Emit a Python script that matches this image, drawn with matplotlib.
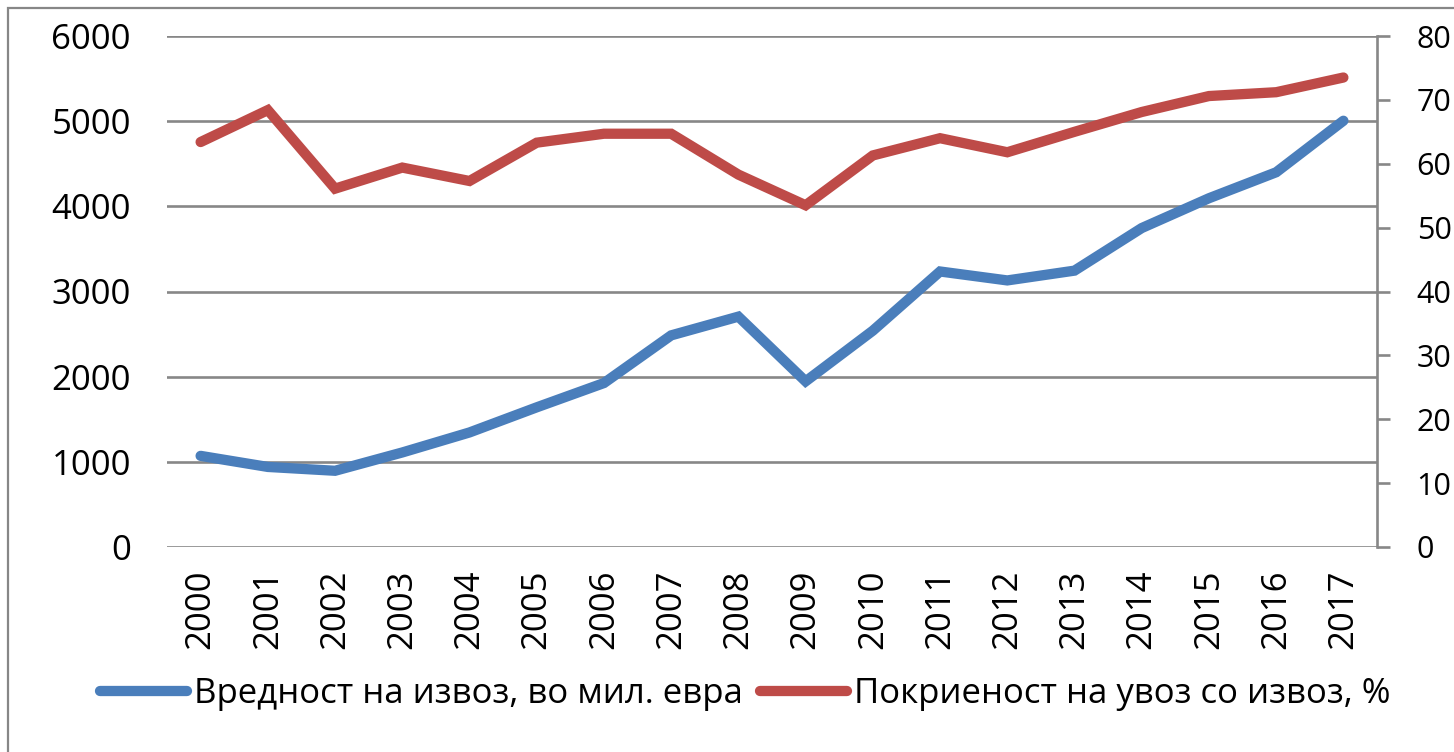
import matplotlib
matplotlib.use("Agg")
import matplotlib.pyplot as plt
from matplotlib.patches import Rectangle

years = ["2000", "2001", "2002", "2003", "2004", "2005", "2006", "2007", "2008",
         "2009", "2010", "2011", "2012", "2013", "2014", "2015", "2016", "2017"]
export_value = [1070, 940, 895, 1110, 1345, 1640, 1925, 2485, 2705,
                1945, 2540, 3235, 3130, 3245, 3745, 4095, 4400, 5005]
coverage = [63.4, 68.4, 56.1, 59.4, 57.3, 63.3, 64.7, 64.7, 58.3,
            53.5, 61.3, 64.0, 61.8, 65.0, 68.1, 70.6, 71.2, 73.5]
left_ticks = [0, 1000, 2000, 3000, 4000, 5000, 6000]
right_ticks = [0, 10, 20, 30, 40, 50, 60, 70, 80]
label_blue = "Вредност на извоз, во мил. евра"
label_red = "Покриеност на увоз со извоз, %"

plt.rcParams['font.family'] = ['Open Sans', 'DejaVu Sans']
FS = 25
FS_R = 22
GRID = "#878787"
BLUE = "#4A7EBB"
RED = "#BE4B48"

W, H = 1454, 752
fig = plt.figure(figsize=(W / 100, H / 100), dpi=100)

# outer chart frame
fig.patches.append(Rectangle((8 / W, -0.05), 1.2, 1.05 - 8 / H, transform=fig.transFigure,
                             fill=False, edgecolor=GRID, linewidth=1.6, zorder=0))

ax = fig.add_axes([167 / W, 1 - 547 / H, 1210 / W, 511 / H])
x = list(range(len(years)))
ax.plot(x, export_value, color=BLUE, linewidth=7.4, solid_capstyle='round',
        solid_joinstyle='miter', label=label_blue, zorder=3)
ax.set_ylim(0, 6000)
ax.set_xlim(-0.5, len(years) - 0.5)
ax.set_yticks(left_ticks)
ax.set_yticklabels([str(v) for v in left_ticks])
ax.grid(axis='y', color=GRID, linewidth=1.9)
ax.set_axisbelow(True)
ax.set_xticks(x)
ax.set_xticklabels(years, rotation=90, va='top', ha='center')
ax.tick_params(axis='x', length=0, pad=16, labelsize=FS)
ax.tick_params(axis='y', length=0, pad=26, labelsize=FS)
for s in ax.spines.values():
    s.set_visible(False)

ax2 = ax.twinx()
ax2.plot(x, coverage, color=RED, linewidth=7.4, solid_capstyle='round',
         solid_joinstyle='miter', label=label_red, zorder=3)
ax2.set_ylim(0, 80)
ax2.set_yticks(right_ticks)
ax2.set_yticklabels([str(v) for v in right_ticks])
ax2.tick_params(axis='y', length=9.5, width=1.9, color=GRID, pad=19, labelsize=FS_R)
for k, s in ax2.spines.items():
    s.set_visible(k == 'right')
ax2.spines['right'].set_color(GRID)
ax2.spines['right'].set_linewidth(1.9)

h1, l1 = ax.get_legend_handles_labels()
h2, l2 = ax2.get_legend_handles_labels()
fig.legend(h1 + h2, l1 + l2, loc='center', bbox_to_anchor=(745 / W, 1 - 694 / H),
           ncol=2, frameon=False, fontsize=FS, handlelength=2.5, handletextpad=0.2,
           columnspacing=0.5, borderaxespad=0)

fig.savefig("out.png", dpi=100, facecolor='white')
